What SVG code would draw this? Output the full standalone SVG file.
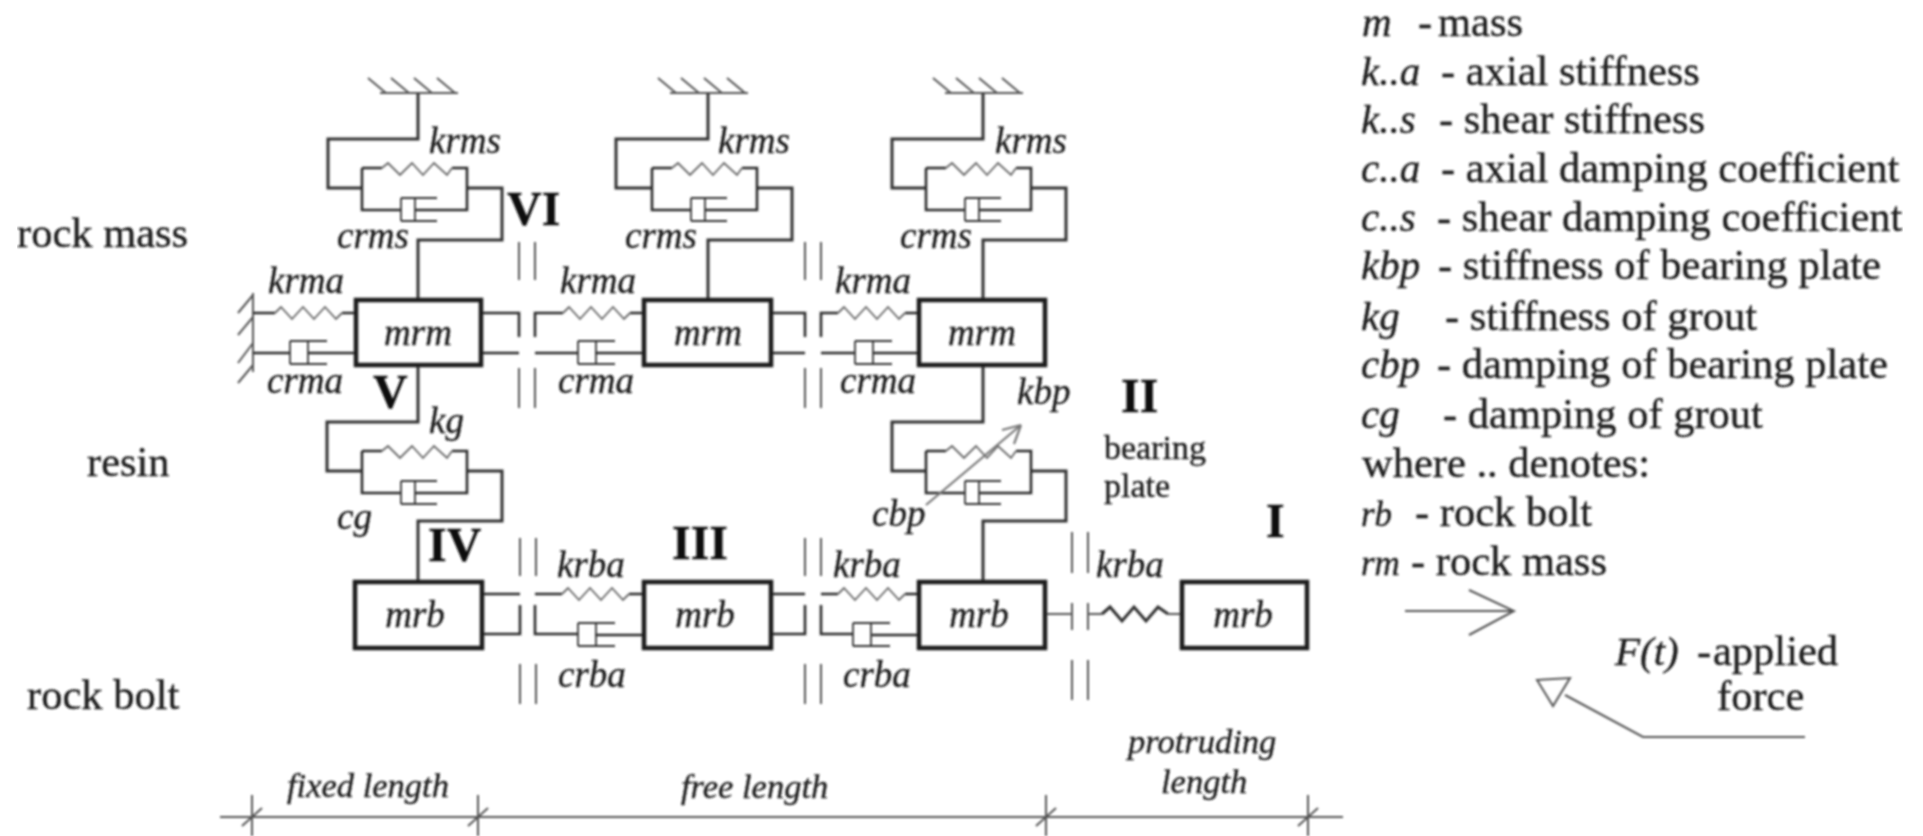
<svg xmlns="http://www.w3.org/2000/svg" width="1923" height="836" viewBox="0 0 1923 836">
<style>
text{font-family:"Liberation Serif","Times New Roman",serif;fill:#1c1c1c;stroke:#1c1c1c;stroke-width:.35}
.l{font-size:42.5px}
.i{font-size:37px;font-style:italic}
.li{font-size:41px;font-style:italic}
.s{font-size:35px;font-style:italic}
.b{font-size:48px;font-weight:bold;fill:#111}
.m{font-size:37px;font-style:italic;text-anchor:middle}
.d{font-size:34.5px;font-style:italic}
.p{font-size:34px}
.box{fill:none;stroke:#1a1a1a;stroke-width:4.5}
path{fill:none;stroke:#2a2a2a;stroke-width:2.6}
.w{stroke:#333;stroke-width:3}
.t{stroke:#555;stroke-width:2}
.z{stroke:#666;stroke-width:1.8}
.r{stroke:#333;stroke-width:1.8}
.c{stroke:#777;stroke-width:2.2}
</style>
<defs>
<filter id="soft" x="0" y="0" width="100%" height="100%"><feGaussianBlur stdDeviation="0.8"/></filter>
<g id="ground"><path class="t" d="M-38 0H40M-50 -15L-32 0M-27 -15L-9 0M-4 -15L14 0M19 -15L37 0"/></g>
<g id="unit"><path d="M0 -20V22H39M53 22H105V-20H90M0 -20H20"/><path class="z" d="M20 -20L26 -25L38 -13L50 -25L61 -13L72 -25L85 -13L90 -20"/><path class="r" d="M39 10H75M39 33H75M39 10V33M53 10V33"/></g>
<g id="spring"><path class="z" d="M0 0L6 -6L17 6L28 -6L39 6L50 -6L61 6L67 0"/></g>
<g id="damper"><path class="r" d="M0 -12H37M0 11H37M0 -12V11M18 -12V11"/></g>
<g id="cuts"><path class="t" d="M0 0V38M16 0V38M0 126V166M16 126V166"/></g>
</defs>
<rect width="1923" height="836" fill="#fff"/>
<g filter="url(#soft)">
<g id="connectors">
<use href="#ground" x="418" y="93"/><use href="#ground" x="708" y="93"/><use href="#ground" x="983" y="93"/>
<path class="w" d="M418 93V139H328V188H362M467 188H502V240H418V300M708 93V139H616V188H652M757 188H792V240H708V300M983 93V139H892V188H926M1031 188H1066V240H983V300"/>
<path class="w" d="M418 365V422H327V471H362M467 471H502V521H418V582M983 365V422H892V471H926M1031 471H1066V521H983V582"/>
<use href="#unit" x="362" y="188"/><use href="#unit" x="652" y="188"/><use href="#unit" x="926" y="188"/><use href="#unit" x="362" y="471"/><use href="#unit" x="926" y="471"/>
<path class="t" d="M253 293V372M253 295L238 313M253 317L238 335M253 343L238 363M253 365L238 383"/>
<path d="M253 313H275M342 313H356M253 353H290M308 353H356M481 313H519V337M481 353H519M535 337V313H563M630 313H644M535 353H578M595 353H644M771 313H805V337M771 353H805M821 337V313H838M905 313H919M821 353H855M873 353H919"/>
<use href="#spring" x="275" y="313"/><use href="#spring" x="563" y="313"/><use href="#spring" x="838" y="313"/>
<use href="#damper" x="290" y="353"/><use href="#damper" x="578" y="353"/><use href="#damper" x="855" y="353"/>
<use href="#cuts" x="519" y="242"/><use href="#cuts" x="805" y="242"/>
<path d="M482 594H520M482 634H520V605M535 594H562M629 594H644M535 605V634H578M595 635H644M771 594H805M771 634H805V605M821 594H838M905 594H919M821 605V634H853M872 635H919"/>
<use href="#spring" x="562" y="594"/><use href="#spring" x="838" y="594"/>
<use href="#damper" x="578" y="635"/><use href="#damper" x="853" y="635"/>
<use href="#cuts" x="520" y="538"/><use href="#cuts" x="805" y="538"/>
<path class="t" d="M1072 532V573M1088 532V573M1072 603V630M1088 603V630M1072 660V700M1088 660V700M1045 614H1072M1088 614H1102M1168 614H1182"/>
<path d="M1102 614L1110 607L1122 621L1134 607L1146 621L1158 607L1168 614" class="w"/>
<path class="c" d="M926 505L1021 425L1002 430M1021 425L1014 444"/>
</g>
<g id="mrm-1"><rect class="box" x="356" y="300" width="125" height="65"/><text class="m" x="418" y="345">mrm</text></g>
<g id="mrm-2"><rect class="box" x="644" y="300" width="127" height="65"/><text class="m" x="708" y="345">mrm</text></g>
<g id="mrm-3"><rect class="box" x="919" y="300" width="126" height="65"/><text class="m" x="982" y="345">mrm</text></g>
<g id="mrb-1"><rect class="box" x="355" y="582" width="127" height="66"/><text class="m" x="415" y="627">mrb</text></g>
<g id="mrb-2"><rect class="box" x="644" y="582" width="127" height="66"/><text class="m" x="705" y="627">mrb</text></g>
<g id="mrb-3"><rect class="box" x="919" y="582" width="126" height="66"/><text class="m" x="979" y="627">mrb</text></g>
<g id="mrb-4"><rect class="box" x="1182" y="582" width="125" height="66"/><text class="m" x="1243" y="627">mrb</text></g>
<g id="labels">
<text class="i" x="429" y="153">krms</text><text class="i" x="718" y="153">krms</text><text class="i" x="995" y="153">krms</text>
<text class="i" x="337" y="248">crms</text><text class="i" x="625" y="248">crms</text><text class="i" x="900" y="248">crms</text>
<text class="i" x="268" y="293">krma</text><text class="i" x="560" y="293">krma</text><text class="i" x="835" y="293">krma</text>
<text class="i" x="267" y="393">crma</text><text class="i" x="558" y="393">crma</text><text class="i" x="840" y="393">crma</text>
<text class="i" x="429" y="433">kg</text><text class="i" x="337" y="529">cg</text>
<text class="i" x="1017" y="404">kbp</text><text class="i" x="872" y="526">cbp</text>
<text class="i" x="557" y="577">krba</text><text class="i" x="833" y="577">krba</text><text class="i" x="1096" y="577">krba</text>
<text class="i" x="558" y="687">crba</text><text class="i" x="843" y="687">crba</text>
<text class="b" x="507" y="225">VI</text><text class="b" x="373" y="408">V</text><text class="b" x="428" y="561">IV</text><text class="b" x="672" y="559">III</text><text class="b" x="1121" y="412">II</text><text class="b" x="1266" y="537">I</text>
<text class="p" x="1104" y="459">bearing</text><text class="p" x="1104" y="497">plate</text>
<text class="l" x="17" y="247">rock mass</text><text class="l" x="87" y="476">resin</text><text class="l" x="27" y="709">rock bolt</text>
</g>
<g id="length-axis">
<path class="t" d="M220 817H1343M252 795V836M242 826L262 808M478 795V836M468 826L488 808M1046 795V836M1036 826L1056 808M1308 795V836M1298 826L1318 808"/>
<text class="d" x="287" y="797">fixed length</text><text class="d" x="681" y="798">free length</text>
<text class="d" x="1128" y="753">protruding</text><text class="d" x="1161" y="793">length</text>
</g>
<g id="legend">
<text class="l" y="36"><tspan class="li" x="1362">m</tspan><tspan x="1418">-</tspan><tspan x="1438">mass</tspan></text>
<text class="l" y="85"><tspan class="li" x="1361">k..a</tspan><tspan x="1441">- axial stiffness</tspan></text>
<text class="l" y="133"><tspan class="li" x="1361">k..s</tspan><tspan x="1439">- shear stiffness</tspan></text>
<text class="l" y="182"><tspan class="li" x="1361">c..a</tspan><tspan x="1441">- axial damping coefficient</tspan></text>
<text class="l" y="231"><tspan class="li" x="1361">c..s</tspan><tspan x="1437">- shear damping coefficient</tspan></text>
<text class="l" y="279"><tspan class="li" x="1361">kbp</tspan><tspan x="1438">- stiffness of bearing plate</tspan></text>
<text class="l" y="330"><tspan class="li" x="1361">kg</tspan><tspan x="1445">- stiffness of grout</tspan></text>
<text class="l" y="378"><tspan class="li" x="1361">cbp</tspan><tspan x="1437">- damping of bearing plate</tspan></text>
<text class="l" y="428"><tspan class="li" x="1361">cg</tspan><tspan x="1443">- damping of grout</tspan></text>
<text class="l" x="1362" y="477">where .. denotes:</text>
<text class="l" y="526"><tspan class="s" x="1361">rb</tspan><tspan x="1415">- rock bolt</tspan></text>
<text class="l" y="575"><tspan class="s" x="1361">rm</tspan><tspan x="1411">- rock mass</tspan></text>
<path class="t" d="M1405 611H1514M1469 590L1514 611L1469 635"/>
<text class="l" y="665"><tspan class="li" x="1615">F(t)</tspan><tspan x="1697">-</tspan><tspan x="1713">applied</tspan></text>
<text class="l" x="1717" y="710">force</text>
<path class="t" d="M1537 680L1570 678L1553 706ZM1565 695L1643 737H1805"/>
</g>
</g>
</svg>
